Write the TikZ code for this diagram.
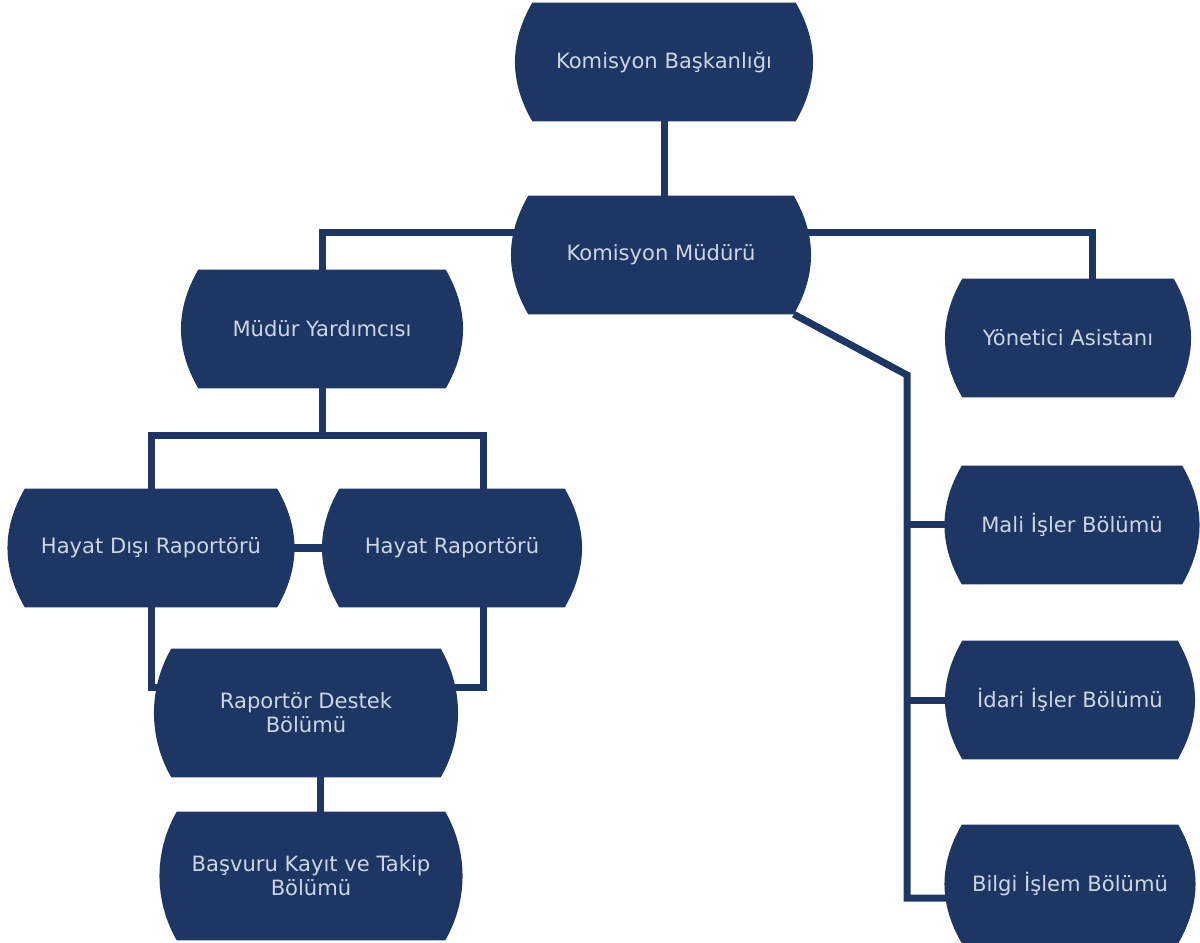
\documentclass[tikz,border=0pt]{standalone}
\usepackage{fontspec}
\setmainfont{DejaVu Sans}
\usetikzlibrary{backgrounds}

\definecolor{kurumlacivert}{RGB}{29,54,99}
\definecolor{kurumyazi}{RGB}{204,214,228}

\tikzset{
  birim/.style={rectangle, inner sep=0pt, minimum height=29.5mm,
    text=kurumyazi, font=\fontsize{15}{17}\selectfont, align=center},
  hat/.style={draw=kurumlacivert, line width=1.75mm},
}

\begin{document}
\begin{tikzpicture}[x=0.25mm,y=-0.25mm]
  \useasboundingbox (0,0) rectangle (1200,943);

  % birimler
  \node[birim, minimum width=65.75mm] (bas) at (664,62) {Komisyon Başkanlığı};
  \node[birim, minimum width=66.25mm] (mud) at (661,255) {Komisyon Müdürü};
  \node[birim, minimum width=61.75mm] (yard) at (322,329) {Müdür Yardımcısı};
  \node[birim, minimum width=52.75mm] (asis) at (1068,338) {Yönetici Asistanı};
  \node[birim, minimum width=55mm] (mali) at (1072,525) {Mali İşler Bölümü};
  \node[birim, minimum width=53.75mm] (idari) at (1070,700) {İdari İşler Bölümü};
  \node[birim, minimum width=54mm] (bilgi) at (1070,884) {Bilgi İşlem Bölümü};
  \node[birim, minimum width=63mm] (hdis) at (151,548) {Hayat Dışı Raportörü};
  \node[birim, minimum width=56.25mm] (hay) at (452,548) {Hayat Raportörü};
  \node[birim, minimum width=67.25mm, minimum height=32mm] (rdes) at (306,713) {Raportör Destek\\Bölümü};
  \node[birim, minimum width=67mm, minimum height=32mm] (bkay) at (311,876) {Başvuru Kayıt ve Takip\\Bölümü};

  \begin{scope}[on background layer]
    % baglantilar
    \draw[hat] (bas.south) -- (bas.south |- mud.north);
    \draw[hat] ([yshift=5.5mm]mud.west) -| (yard.north);
    \draw[hat] ([yshift=5.5mm]mud.east) -| ([xshift=6mm]asis.north);
    \coordinate (kirik) at (907,375);
    \draw[hat] (mud.south east) -- (kirik) |- ([yshift=-3.5mm]bilgi.west);
    \draw[hat] (kirik |- mali.west) -- (mali.west);
    \draw[hat] (kirik |- idari.west) -- (idari.west);
    \draw[hat] (yard.south) -- ++(0,47) coordinate (ayrim);
    \draw[hat] (hdis.north) |- (ayrim) -| ([xshift=7.75mm]hay.north);
    \draw[hat] (hdis.east) -- (hay.west);
    \draw[hat] (hdis.south) |- ([yshift=6.5mm]rdes.west);
    \draw[hat] ([xshift=7.75mm]hay.south) |- ([yshift=6.5mm]rdes.east);
    \draw[hat] ([xshift=3.5mm]rdes.south) -- ([xshift=3.5mm]rdes.south |- bkay.north);

    % fici kutular
    \foreach \n in {bas,mud,yard,asis,mali,idari,bilgi,hdis,hay,rdes,bkay}
      \fill[kurumlacivert] (\n.north west) .. controls +(-23,40) and +(-23,-40) .. (\n.south west)
        -- (\n.south east) .. controls +(23,-40) and +(23,40) .. (\n.north east) -- cycle;
  \end{scope}
\end{tikzpicture}
\end{document}
